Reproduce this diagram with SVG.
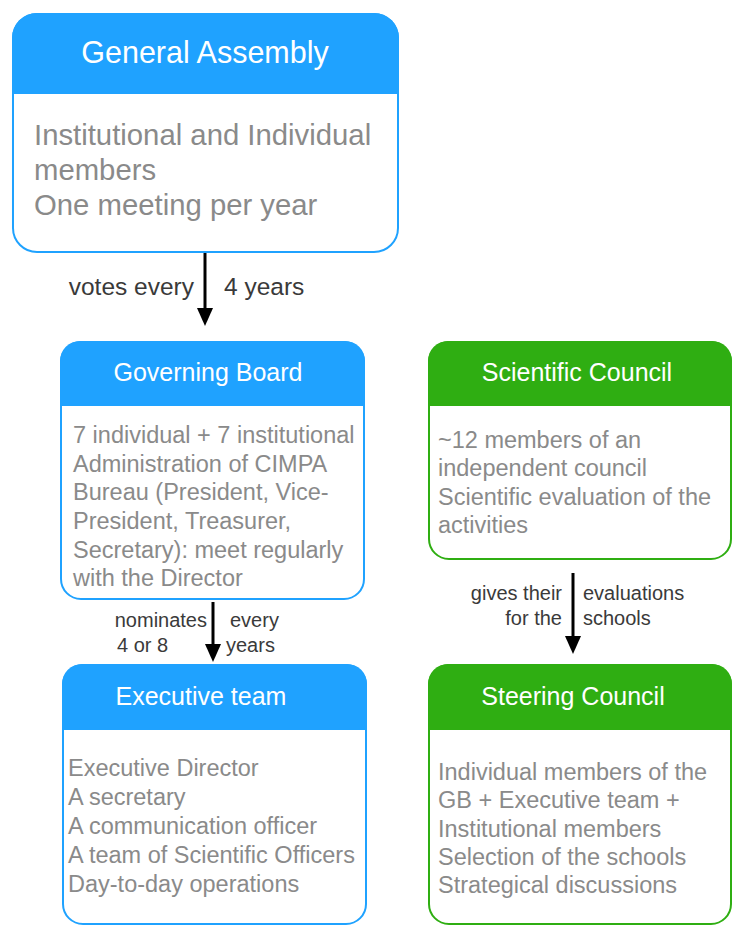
<svg xmlns="http://www.w3.org/2000/svg" width="746" height="940" viewBox="0 0 746 940">
<style>
text{font-family:"Liberation Sans",Arial,Helvetica,sans-serif}
.bbox{fill:#fff;stroke:#1FA2FF;stroke-width:2}
.gbox{fill:#fff;stroke:#2FAE12;stroke-width:2}
.bh{fill:#1FA2FF}
.gh{fill:#2FAE12}
.title{fill:#fff;font-size:25px;text-anchor:middle}
.body{fill:#8a8a8a;font-size:23.5px}
.lbl{fill:#3a3a3a;font-size:20px}
.edge{stroke:#000;stroke-width:3;fill:none;marker-end:url(#ah)}
</style>
<defs>
<marker id="ah" markerUnits="userSpaceOnUse" markerWidth="18" markerHeight="16" refX="8" refY="8" orient="auto" viewBox="0 0 18 16">
<path d="M0,0 L18,8 L0,16 Z" fill="#000"/>
</marker>
</defs>
<g id="connectors">
<line class="edge" x1="205" y1="253" x2="205" y2="316"/>
<line class="edge" x1="213" y1="602" x2="213" y2="652"/>
<line class="edge" x1="573" y1="573" x2="573" y2="644"/>
<text class="lbl" x="194" y="295" text-anchor="end" style="font-size:24.5px">votes every</text>
<text class="lbl" x="224" y="295" style="font-size:24.5px">4 years</text>
<text class="lbl" x="207" y="627" text-anchor="end">nominates</text>
<text class="lbl" x="230" y="627">every</text>
<text class="lbl" x="117" y="652">4 or 8</text>
<text class="lbl" x="226" y="652">years</text>
<text class="lbl" x="562" y="600" text-anchor="end">gives their</text>
<text class="lbl" x="583" y="600">evaluations</text>
<text class="lbl" x="562" y="625" text-anchor="end">for the</text>
<text class="lbl" x="583" y="625">schools</text>
</g>
<g id="general-assembly">
<rect class="bbox" x="13" y="14" width="385" height="238" rx="24"/>
<path class="bh" d="M12,94 V38 A25,25 0 0 1 37,13 H374 A25,25 0 0 1 399,38 V94 Z"/>
<text class="title" x="205" y="63" style="font-size:30.5px">General Assembly</text>
<text class="body" x="34" y="145" style="font-size:29.3px">Institutional and Individual</text>
<text class="body" x="34" y="180" style="font-size:29.3px">members</text>
<text class="body" x="34" y="215" style="font-size:29.3px">One meeting per year</text>
</g>
<g id="governing-board">
<rect class="bbox" x="61" y="342" width="303" height="257" rx="20"/>
<path class="bh" d="M60,406 V361 A20,20 0 0 1 80,341 H345 A20,20 0 0 1 365,361 V406 Z"/>
<text class="title" x="208" y="381">Governing Board</text>
<text class="body" x="73" y="443">7 individual + 7 institutional</text>
<text class="body" x="73" y="472">Administration of CIMPA</text>
<text class="body" x="73" y="500">Bureau (President, Vice-</text>
<text class="body" x="73" y="529">President, Treasurer,</text>
<text class="body" x="73" y="558">Secretary): meet regularly</text>
<text class="body" x="73" y="586">with the Director</text>
</g>
<g id="scientific-council">
<rect class="gbox" x="429" y="342" width="302" height="217" rx="20"/>
<path class="gh" d="M428,406 V361 A20,20 0 0 1 448,341 H712 A20,20 0 0 1 732,361 V406 Z"/>
<text class="title" x="577" y="381">Scientific Council</text>
<text class="body" x="438" y="448">~12 members of an</text>
<text class="body" x="438" y="476">independent council</text>
<text class="body" x="438" y="505">Scientific evaluation of the</text>
<text class="body" x="438" y="533">activities</text>
</g>
<g id="executive-team">
<rect class="bbox" x="63" y="665" width="303" height="259" rx="20"/>
<path class="bh" d="M62,730 V684 A20,20 0 0 1 82,664 H347 A20,20 0 0 1 367,684 V730 Z"/>
<text class="title" x="201" y="705">Executive team</text>
<text class="body" x="68" y="776">Executive Director</text>
<text class="body" x="68" y="805">A secretary</text>
<text class="body" x="68" y="834">A communication officer</text>
<text class="body" x="68" y="863">A team of Scientific Officers</text>
<text class="body" x="68" y="892">Day-to-day operations</text>
</g>
<g id="steering-council">
<rect class="gbox" x="429" y="665" width="302" height="259" rx="20"/>
<path class="gh" d="M428,730 V684 A20,20 0 0 1 448,664 H712 A20,20 0 0 1 732,684 V730 Z"/>
<text class="title" x="573" y="705">Steering Council</text>
<text class="body" x="438" y="780">Individual members of the</text>
<text class="body" x="438" y="808">GB + Executive team +</text>
<text class="body" x="438" y="837">Institutional members</text>
<text class="body" x="438" y="865">Selection of the schools</text>
<text class="body" x="438" y="893">Strategical discussions</text>
</g>
</svg>
